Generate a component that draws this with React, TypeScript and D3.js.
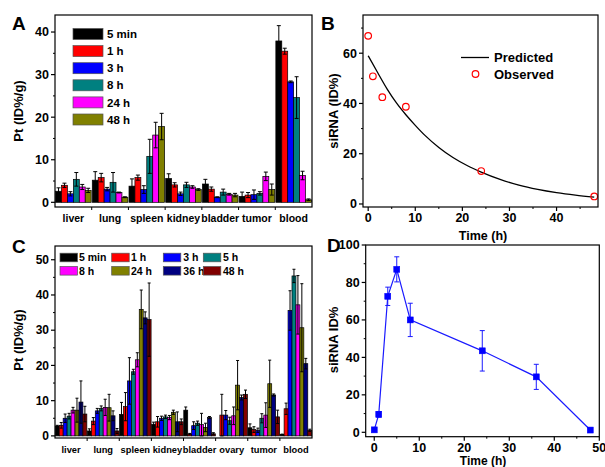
import React from "react";
import * as d3 from "d3";

// ---------- Panel A data ----------
const catsA = ["liver", "lung", "spleen", "kidney", "bladder", "tumor", "blood"];
const seriesA = ["5 min", "1 h", "3 h", "8 h", "24 h", "48 h"];
const colorsA = ["#000000", "#ff0000", "#0000ff", "#008080", "#ff00ff", "#808000"];
const valsA = [
  [2.6, 5.2, 3.8, 5.6, 4.3, 1.4, 37.9],
  [4.0, 5.8, 5.8, 4.1, 3.1, 1.7, 35.5],
  [2.0, 3.1, 3.0, 2.0, 1.2, 1.8, 28.3],
  [5.4, 4.7, 10.8, 4.1, 2.4, 2.1, 24.6],
  [3.6, 2.3, 15.8, 3.6, 1.9, 6.1, 6.3],
  [2.8, 1.2, 17.8, 3.0, 1.7, 3.0, 0.6],
];
const errsA = [
  [0.8, 2.0, 1.7, 1.1, 1.1, 1.0, 3.6],
  [0.5, 1.0, 0.6, 0.5, 0.5, 0.6, 0.7],
  [0.5, 0.4, 0.9, 0.4, 0.1, 1.1, 0.2],
  [1.6, 2.3, 4.0, 0.6, 0.7, 0.4, 4.9],
  [0.6, 0.1, 3.0, 0.3, 0.2, 1.0, 1.0],
  [0.5, 0.1, 3.1, 0.2, 0.4, 1.3, 0.2],
];
const ticksA = [0, 10, 20, 30, 40];

// ---------- Panel B data ----------
const obsTimeB = [0, 1, 3, 8, 24, 48];
const obsValB = [66.9, 50.8, 42.5, 38.7, 13.1, 3.0];
const predTimeB = [0, 2, 4, 6, 8, 10, 12, 15, 18, 21, 24, 28, 32, 36, 40, 44, 48];
const predValB = [59, 52.3, 45.8, 40.2, 35.5, 31.3, 27.4, 22.5, 18.5, 15.3, 12.7, 9.8, 7.5, 5.8, 4.5, 3.5, 2.7];
const ticksBx = [0, 10, 20, 30, 40];
const ticksBy = [0, 20, 40, 60];

// ---------- Panel C data ----------
const catsC = ["liver", "lung", "spleen", "kidney", "bladder", "ovary", "tumor", "blood"];
const seriesC = ["5 min", "1 h", "3 h", "5 h", "8 h", "24 h", "36 h", "48 h"];
const colorsC = ["#000000", "#ff0000", "#0000ff", "#008080", "#ff00ff", "#808000", "#000080", "#800000"];
const valsC = [
  [2.8, 1.4, 6.1, 3.3, 7.3, 0.0, 2.3, 0.4],
  [3.0, 4.2, 8.3, 4.0, 0.5, 5.9, 1.8, 7.7],
  [5.0, 7.1, 15.6, 5.0, 2.9, 5.9, 1.6, 35.6],
  [5.6, 7.8, 18.2, 5.4, 3.6, 4.3, 5.0, 45.4],
  [7.3, 8.1, 21.6, 5.2, 3.2, 5.7, 5.9, 37.2],
  [7.3, 8.0, 35.9, 6.7, 2.4, 14.4, 14.8, 30.7],
  [9.6, 5.7, 33.5, 4.0, 5.2, 10.9, 11.6, 20.5],
  [6.2, 1.4, 33.0, 4.0, 0.6, 11.8, 5.4, 1.6],
];
const errsC = [
  [0.2, 0.6, 3.4, 0.6, 0.9, 0.0, 1.1, 0.1],
  [0.8, 1.0, 4.0, 1.5, 0.2, 5.9, 0.8, 1.6],
  [1.2, 0.7, 6.6, 0.6, 1.1, 1.3, 0.6, 5.6],
  [0.8, 0.7, 0.7, 0.5, 0.6, 1.0, 1.3, 1.9],
  [0.8, 2.3, 2.0, 0.6, 3.2, 2.5, 3.5, 8.3],
  [3.4, 3.8, 5.5, 0.6, 1.2, 7.0, 6.7, 12.5],
  [6.0, 1.4, 1.7, 2.8, 0.3, 0.7, 0.3, 1.5],
  [2.2, 0.7, 10.4, 0.8, 0.3, 1.2, 1.9, 0.3],
];
const ticksC = [0, 10, 20, 30, 40, 50];

// ---------- Panel D data ----------
const timeD = [0, 1, 3, 5, 8, 24, 36, 48];
const valD = [1.3, 9.6, 72.6, 87, 60, 43.5, 29.6, 1.2];
const errD = [0.5, 1.5, 4.9, 6.7, 8.9, 10.8, 6.7, 0.5];
const ticksDx = [0, 10, 20, 30, 40, 50];
const ticksDy = [0, 20, 40, 60, 80, 100];

const FONT = "'Liberation Sans', Arial, Helvetica, sans-serif";

type BarProps = {
  cats: string[];
  series: string[];
  colors: string[];
  vals: number[][];
  errs: number[][];
  ticks: number[];
  box: { l: number; r: number; t: number; b: number };
  yDomain: [number, number];
  inner: number;
  cap: number;
  catFont: number;
  tickFont: number;
  label: string;
  labelPos: [number, number];
  yLabelPos: [number, number];
  legend: React.ReactNode;
};

function BarPanel(p: BarProps) {
  const { box } = p;
  const x0 = d3.scaleBand<string>().domain(p.cats).range([box.l, box.r]).paddingInner(0).paddingOuter(0);
  const x1 = d3.scaleBand<string>().domain(p.series).range([0, x0.bandwidth()]).paddingOuter(p.inner / 2).paddingInner(0);
  const y = d3.scaleLinear().domain(p.yDomain).range([box.b, box.t]);
  const minor = p.ticks.slice(0, -1).map((t, i) => (t + p.ticks[i + 1]) / 2);
  const lastMinor = p.ticks[p.ticks.length - 1] + (p.ticks[1] - p.ticks[0]) / 2;
  if (lastMinor < p.yDomain[1]) minor.push(lastMinor);
  return (
    <g>
      {p.cats.map((c, ci) =>
        p.series.map((s, si) => {
          const v = p.vals[si][ci];
          const e = p.errs[si][ci];
          const bx = (x0(c) as number) + (x1(s) as number);
          const bw = x1.bandwidth();
          const cx = bx + bw / 2;
          return (
            <g key={c + s}>
              <rect x={bx} y={y(v)} width={bw} height={Math.max(0, y(0) - y(v))} fill={p.colors[si]} stroke="#000" strokeWidth={0.7} />
              {e > 0 && (
                <g stroke="#000" strokeWidth={1}>
                  <line x1={cx} x2={cx} y1={y(v + e)} y2={y(Math.max(v - e, 0))} />
                  <line x1={cx - p.cap / 2} x2={cx + p.cap / 2} y1={y(v + e)} y2={y(v + e)} />
                  <line x1={cx - p.cap / 2} x2={cx + p.cap / 2} y1={y(Math.max(v - e, 0))} y2={y(Math.max(v - e, 0))} />
                </g>
              )}
            </g>
          );
        })
      )}
      <rect x={box.l} y={box.t} width={box.r - box.l} height={box.b - box.t} fill="none" stroke="#000" strokeWidth={1.2} />
      {p.ticks.map((t) => (
        <g key={"t" + t}>
          <line x1={box.l - 4} x2={box.l} y1={y(t)} y2={y(t)} stroke="#000" strokeWidth={1.2} />
          <text x={box.l - 6} y={y(t)} dy="0.35em" textAnchor="end" fontSize={p.tickFont} fontWeight="bold" fontFamily={FONT}>{t}</text>
        </g>
      ))}
      {minor.map((t) => (
        <line key={"m" + t} x1={box.l - 2} x2={box.l} y1={y(t)} y2={y(t)} stroke="#000" strokeWidth={1} />
      ))}
      {p.cats.map((c, ci) => (
        <g key={"c" + c}>
          {ci > 0 && <line x1={x0(c)} x2={x0(c)} y1={box.b} y2={box.b + 3} stroke="#000" strokeWidth={1} />}
          <text x={(x0(c) as number) + x0.bandwidth() / 2} y={box.b + 15} textAnchor="middle" fontSize={p.catFont} fontWeight="bold" fontFamily={FONT}>{c}</text>
        </g>
      ))}
      <text transform={`translate(${p.yLabelPos[0]},${p.yLabelPos[1]}) rotate(-90)`} textAnchor="middle" fontSize={13} fontWeight="bold" fontFamily={FONT}>Pt (ID%/g)</text>
      <text x={p.labelPos[0]} y={p.labelPos[1]} fontSize={19} fontWeight="bold" fontFamily={FONT}>{p.label}</text>
      {p.legend}
    </g>
  );
}

function PanelA() {
  const rowY = (i: number) => 34 + i * 17.1;
  const legend = (
    <g>
      {seriesA.map((s, i) => (
        <g key={s}>
          <rect x={73} y={rowY(i) - 5.5} width={30} height={11} fill={colorsA[i]} stroke="#555" strokeWidth={0.7} />
          <text x={107} y={rowY(i)} dy="0.36em" fontSize={11.5} fontWeight="bold" fontFamily={FONT}>{s}</text>
        </g>
      ))}
    </g>
  );
  return (
    <BarPanel
      cats={catsA} series={seriesA} colors={colorsA} vals={valsA} errs={errsA} ticks={ticksA}
      box={{ l: 55, r: 312, t: 15, b: 207 }} yDomain={[-1.1, 44]} inner={0.19} cap={4}
      catFont={10.5} tickFont={12.5} label="A" labelPos={[12, 29.5]} yLabelPos={[23, 111]} legend={legend}
    />
  );
}

function PanelC() {
  const colX = [60, 111.7, 163.3, 203.3];
  const textX = [79, 131, 183.3, 223];
  const legend = (
    <g>
      {seriesC.map((s, i) => {
        const row = Math.floor(i / 4);
        const col = i % 4;
        const cy = 257.5 + row * 13.3;
        return (
          <g key={s}>
            <rect x={colX[col]} y={cy - 4.3} width={17.5} height={8.6} fill={colorsC[i]} stroke="#555" strokeWidth={0.7} />
            <text x={textX[col]} y={cy} dy="0.36em" fontSize={10.5} fontWeight="bold" fontFamily={FONT}>{s}</text>
          </g>
        );
      })}
    </g>
  );
  return (
    <BarPanel
      cats={catsC} series={seriesC} colors={colorsC} vals={valsC} errs={errsC} ticks={ticksC}
      box={{ l: 55, r: 312, t: 246, b: 438 }} yDomain={[-0.6, 53.9]} inner={0.14} cap={3}
      catFont={9.3} tickFont={12} label="C" labelPos={[12, 253]} yLabelPos={[23, 340]} legend={legend}
    />
  );
}

type AxisProps = {
  box: { l: number; r: number; t: number; b: number };
  x: d3.ScaleLinear<number, number>;
  y: d3.ScaleLinear<number, number>;
  xt: number[];
  yt: number[];
  xMinor: number[];
  yMinor: number[];
};

function Frame(p: AxisProps) {
  const { box, x, y } = p;
  return (
    <g>
      <rect x={box.l} y={box.t} width={box.r - box.l} height={box.b - box.t} fill="none" stroke="#000" strokeWidth={1.2} />
      {p.xt.map((t) => (
        <g key={"x" + t}>
          <line x1={x(t)} x2={x(t)} y1={box.b} y2={box.b + 4} stroke="#000" strokeWidth={1.2} />
          <text x={x(t)} y={box.b + 15} textAnchor="middle" fontSize={12.5} fontWeight="bold" fontFamily={FONT}>{t}</text>
        </g>
      ))}
      {p.xMinor.map((t) => (
        <line key={"xm" + t} x1={x(t)} x2={x(t)} y1={box.b} y2={box.b + 2} stroke="#000" strokeWidth={1} />
      ))}
      {p.yt.map((t) => (
        <g key={"y" + t}>
          <line x1={box.l - 4} x2={box.l} y1={y(t)} y2={y(t)} stroke="#000" strokeWidth={1.2} />
          <text x={box.l - 6} y={y(t)} dy="0.35em" textAnchor="end" fontSize={12.5} fontWeight="bold" fontFamily={FONT}>{t}</text>
        </g>
      ))}
      {p.yMinor.map((t) => (
        <line key={"ym" + t} x1={box.l - 2} x2={box.l} y1={y(t)} y2={y(t)} stroke="#000" strokeWidth={1} />
      ))}
    </g>
  );
}

function PanelB() {
  const box = { l: 363, r: 598, t: 15, b: 207 };
  const x = d3.scaleLinear().domain([-1.1, 48.8]).range([box.l, box.r]);
  const y = d3.scaleLinear().domain([-1.2, 75.2]).range([box.b, box.t]);
  const line = d3.line<number>().x((_, i) => x(predTimeB[i])).y((d) => y(d)).curve(d3.curveMonotoneX);
  return (
    <g>
      <path d={line(predValB) || ""} fill="none" stroke="#000" strokeWidth={1.3} />
      {obsTimeB.map((t, i) => (
        <circle key={t} cx={x(t)} cy={y(obsValB[i])} r={3.3} fill="none" stroke="#ff0000" strokeWidth={1.2} />
      ))}
      <Frame box={box} x={x} y={y} xt={ticksBx} yt={ticksBy} xMinor={[5, 15, 25, 35, 45]} yMinor={[10, 30, 50, 70]} />
      <line x1={461} x2={489} y1={57.5} y2={57.5} stroke="#000" strokeWidth={1.3} />
      <text x={494} y={57.5} dy="0.36em" fontSize={13} fontWeight="bold" fontFamily={FONT}>Predicted</text>
      <circle cx={475.5} cy={74} r={3.3} fill="none" stroke="#ff0000" strokeWidth={1.2} />
      <text x={494} y={74} dy="0.36em" fontSize={13} fontWeight="bold" fontFamily={FONT}>Observed</text>
      <text transform="translate(338,111) rotate(-90)" textAnchor="middle" fontSize={13} fontWeight="bold" fontFamily={FONT}>siRNA (ID%)</text>
      <text x={483} y={240} textAnchor="middle" fontSize={12.5} fontWeight="bold" fontFamily={FONT}>Time (h)</text>
      <text x={321} y={29.5} fontSize={19} fontWeight="bold" fontFamily={FONT}>B</text>
    </g>
  );
}

function PanelD() {
  const box = { l: 365.7, r: 599.3, t: 245, b: 436.7 };
  const x = d3.scaleLinear().domain([-1.9, 50]).range([box.l, box.r]);
  const y = d3.scaleLinear().domain([-2.35, 100]).range([box.b, box.t]);
  const line = d3.line<number>().x((_, i) => x(timeD[i])).y((d) => y(d));
  return (
    <g>
      <path d={line(valD) || ""} fill="none" stroke="#1a1aff" strokeWidth={1.2} />
      {timeD.map((t, i) => (
        <g key={t} stroke="#1a1aff" strokeWidth={1}>
          <line x1={x(t)} x2={x(t)} y1={y(valD[i] + errD[i])} y2={y(valD[i] - errD[i])} />
          <line x1={x(t) - 2.5} x2={x(t) + 2.5} y1={y(valD[i] + errD[i])} y2={y(valD[i] + errD[i])} />
          <line x1={x(t) - 2.5} x2={x(t) + 2.5} y1={y(valD[i] - errD[i])} y2={y(valD[i] - errD[i])} />
        </g>
      ))}
      {timeD.map((t, i) => (
        <rect key={"s" + t} x={x(t) - 3} y={y(valD[i]) - 3} width={6} height={6} fill="#0000ff" stroke="#0000ff" strokeWidth={0.5} />
      ))}
      <Frame box={box} x={x} y={y} xt={ticksDx} yt={ticksDy} xMinor={[5, 15, 25, 35, 45]} yMinor={[10, 30, 50, 70, 90]} />
      <text transform="translate(338,340) rotate(-90)" textAnchor="middle" fontSize={13} fontWeight="bold" fontFamily={FONT}>siRNA ID%</text>
      <text x={483} y={465} textAnchor="middle" fontSize={12} fontWeight="bold" fontFamily={FONT}>Time (h)</text>
      <text x={327} y={252} fontSize={19} fontWeight="bold" fontFamily={FONT}>D</text>
    </g>
  );
}

export default function App() {
  return (
    <svg width={605} height={467} viewBox="0 0 605 467" style={{ position: "absolute", left: 0, top: 0, background: "#fff" }}>
      <rect x={0} y={0} width={605} height={467} fill="#fff" />
      <PanelA />
      <PanelB />
      <PanelC />
      <PanelD />
    </svg>
  );
}
